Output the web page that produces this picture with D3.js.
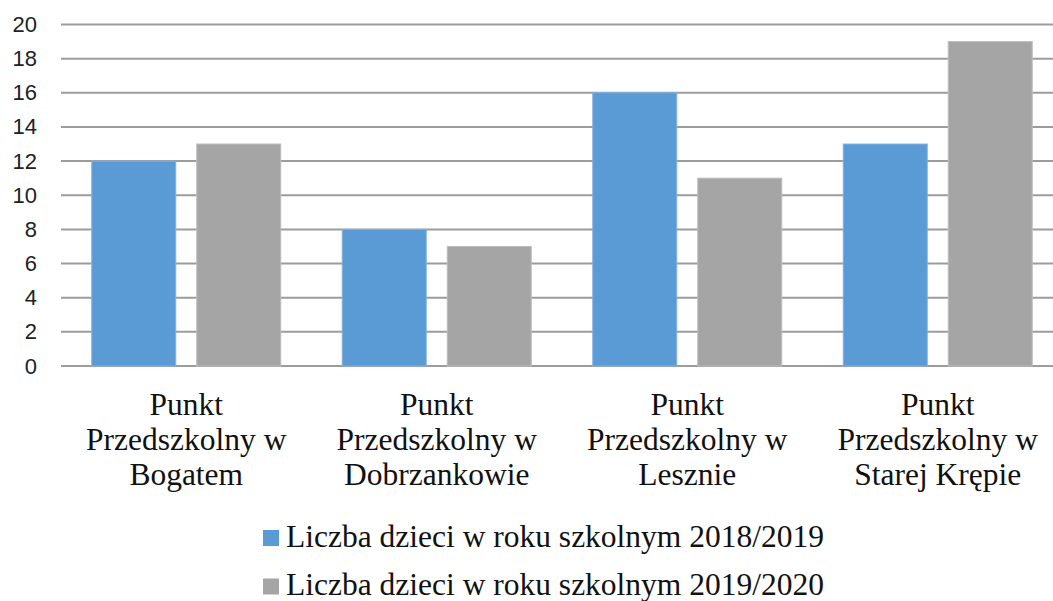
<!DOCTYPE html>
<html>
<head>
<meta charset="utf-8">
<script src="https://cdn.jsdelivr.net/npm/d3@7"></script>
<style>
  body { margin: 0; background: #fff; }
  svg { display: block; }
</style>
</head>
<body>
<svg width="1053" height="601"></svg>
<script>
// data
var categories = [
  ["Punkt", "Przedszkolny w", "Bogatem"],
  ["Punkt", "Przedszkolny w", "Dobrzankowie"],
  ["Punkt", "Przedszkolny w", "Lesznie"],
  ["Punkt", "Przedszkolny w", "Starej Krępie"]
];
var series = ["Liczba dzieci w roku szkolnym 2018/2019", "Liczba dzieci w roku szkolnym 2019/2020"];
var values2018 = [12, 8, 16, 13];
var values2019 = [13, 7, 11, 19];
var yTicks = [0, 2, 4, 6, 8, 10, 12, 14, 16, 18, 20];
var colors = ["#5b9bd5", "#a5a5a5"];

var serif = "'Liberation Serif', 'Times New Roman', serif";
var sans = "'Liberation Sans', Arial, sans-serif";

var svg = d3.select("svg");

var x = d3.scaleBand()
    .domain(d3.range(categories.length))
    .range([61, 1063]);

var xSub = d3.scaleBand()
    .domain([0, 1])
    .range([30.75, x.bandwidth() - 30.75])
    .paddingInner(0.2);

var y = d3.scaleLinear()
    .domain([0, 20])
    .range([366, 24.5]);

// gridlines
svg.append("g")
    .selectAll("line")
    .data(yTicks)
    .enter().append("line")
      .attr("x1", 61)
      .attr("x2", 1063)
      .attr("y1", function(d) { return y(d); })
      .attr("y2", function(d) { return y(d); })
      .attr("stroke", "#9c9c9c")
      .attr("stroke-width", 2);

// y axis labels
var yAxis = d3.axisLeft(y).tickValues(yTicks).tickSize(0).tickPadding(0);
var ya = svg.append("g")
    .attr("transform", "translate(37,0)")
    .call(yAxis);
ya.select(".domain").remove();
ya.selectAll("text")
    .style("font-family", sans)
    .style("font-size", "22px")
    .style("fill", "#222");

// bars
var data = categories.map(function(c, i) { return [values2018[i], values2019[i]]; });
var groups = svg.append("g")
    .selectAll("g")
    .data(data)
    .enter().append("g")
      .attr("transform", function(d, i) { return "translate(" + x(i) + ",0)"; });

groups.selectAll("rect")
    .data(function(d) { return d; })
    .enter().append("rect")
      .attr("x", function(d, j) { return xSub(j); })
      .attr("width", xSub.bandwidth())
      .attr("y", function(d) { return y(d); })
      .attr("height", function(d) { return y(0) - y(d); })
      .attr("fill", function(d, j) { return colors[j]; })
      .attr("stroke", function(d, j) { return j === 0 ? "#7fb2e3" : "#bdbdbd"; })
      .attr("stroke-width", 1);

// category labels
var labels = svg.append("g")
    .selectAll("text")
    .data(categories)
    .enter().append("text")
      .attr("x", function(d, i) { return x(i) + x.bandwidth() / 2; })
      .attr("y", 414.5)
      .attr("text-anchor", "middle")
      .style("font-family", serif)
      .style("font-size", "31.5px")
      .style("fill", "#111");
labels.selectAll("tspan")
    .data(function(d) { return d; })
    .enter().append("tspan")
      .attr("x", function() { return this.parentNode.getAttribute("x"); })
      .attr("dy", function(d, k) { return k === 0 ? 0 : 35; })
      .text(function(d) { return d; });

// legend
var legend = svg.append("g")
    .selectAll("g")
    .data(series)
    .enter().append("g")
      .attr("transform", function(d, i) { return "translate(263," + (530 + i * 48.5) + ")"; });
legend.append("rect")
    .attr("width", 16)
    .attr("height", 16)
    .attr("fill", function(d, i) { return colors[i]; });
legend.append("text")
    .attr("x", 23)
    .attr("y", 16.5)
    .style("font-family", serif)
    .style("font-size", "31.5px")
    .style("fill", "#111")
    .text(function(d) { return d; });
</script>
</body>
</html>
